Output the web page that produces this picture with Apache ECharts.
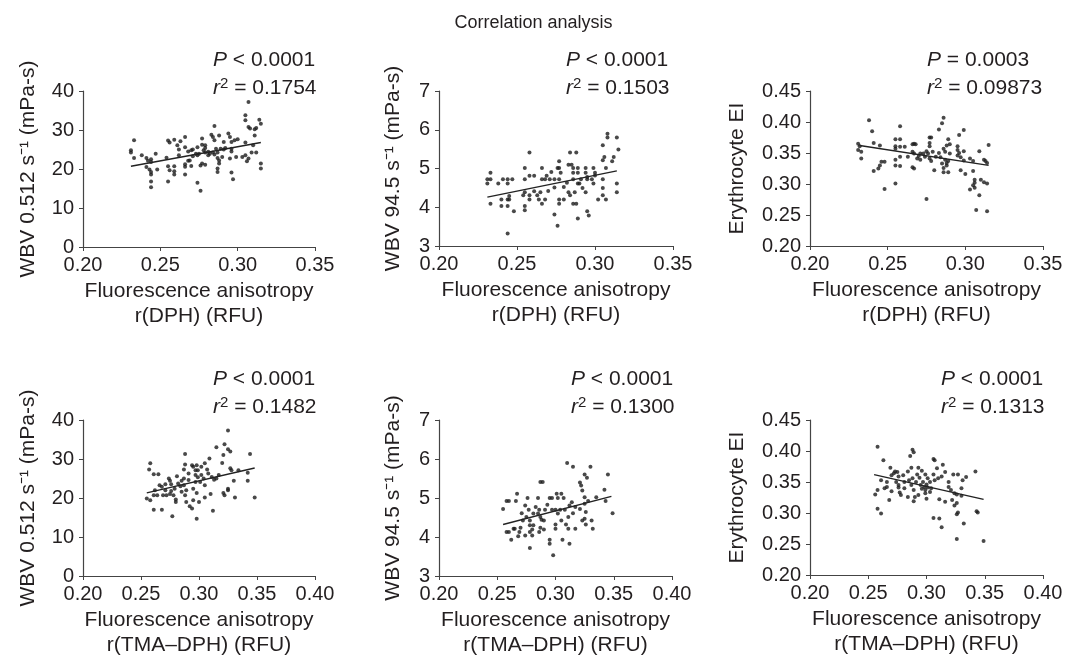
<!DOCTYPE html>
<html>
<head>
<meta charset="utf-8">
<script src="https://cdn.jsdelivr.net/npm/echarts@6/dist/echarts.min.js"></script>
<style>
  html, body { margin: 0; padding: 0; background: #fff; }
  #chart { width: 1067px; height: 661px; }
</style>
</head>
<body>
<div id="chart"></div>
<script>
const dphWbvLow = [[0.233,27.4],[0.231,24.8],[0.231,24.2],[0.233,22.8],[0.238,23.5],[0.241,22.8],[0.242,22.1],[0.244,22.5],[0.244,21.8],[0.247,23.9],[0.241,20.5],[0.243,19.9],[0.244,19.2],[0.244,18.6],[0.248,19.9],[0.244,16.8],[0.244,15.3],[0.254,22.9],[0.255,27.3],[0.256,26.8],[0.259,27.5],[0.261,26.1],[0.262,25.0],[0.263,27.1],[0.266,28.2],[0.266,25.6],[0.255,20.7],[0.256,19.7],[0.259,20.7],[0.259,19.4],[0.255,16.8],[0.259,18.6],[0.266,21.2],[0.266,20.6],[0.266,18.6],[0.268,22.1],[0.269,22.2],[0.270,24.8],[0.271,25.0],[0.273,23.9],[0.274,25.6],[0.275,23.9],[0.276,20.9],[0.277,27.8],[0.277,26.2],[0.279,26.1],[0.279,25.4],[0.278,24.8],[0.279,24.2],[0.277,21.4],[0.279,21.1],[0.274,16.5],[0.276,14.4],[0.281,24.4],[0.283,28.8],[0.284,28.2],[0.285,31.0],[0.285,27.4],[0.284,24.2],[0.285,23.7],[0.287,22.8],[0.287,24.2],[0.288,28.6],[0.289,25.2],[0.288,22.2],[0.288,21.4],[0.287,20.1],[0.287,19.2],[0.290,23.1],[0.291,25.0],[0.292,25.4],[0.294,29.1],[0.295,28.2],[0.296,26.9],[0.296,25.2],[0.296,24.5],[0.295,22.7],[0.296,19.1],[0.297,17.4],[0.298,27.4],[0.300,27.6],[0.299,23.1],[0.303,23.1],[0.305,33.8],[0.305,32.5],[0.307,30.8],[0.308,30.4],[0.307,37.2],[0.311,30.2],[0.312,30.5],[0.314,32.6],[0.315,31.6],[0.305,26.8],[0.305,23.5],[0.307,22.7],[0.306,22.0],[0.309,24.2],[0.311,28.6],[0.310,26.1],[0.312,24.2],[0.315,21.4],[0.315,20.1],[0.271,23.3],[0.274,23.5],[0.281,23.5],[0.282,23.9],[0.291,26.9],[0.286,25.2],[0.268,24.5],[0.262,23.5],[0.270,20.8]];
const dphWbvHigh = [[0.231,4.72],[0.231,4.61],[0.233,4.89],[0.233,4.72],[0.233,4.09],[0.238,4.61],[0.241,4.72],[0.240,4.20],[0.240,4.03],[0.244,4.72],[0.244,4.61],[0.244,4.20],[0.245,4.29],[0.245,4.20],[0.244,4.03],[0.247,4.72],[0.248,3.90],[0.244,3.32],[0.255,5.01],[0.255,4.72],[0.255,4.39],[0.254,4.31],[0.255,4.03],[0.255,3.92],[0.258,5.41],[0.258,4.81],[0.261,4.81],[0.258,4.31],[0.258,4.20],[0.261,4.41],[0.263,4.31],[0.264,4.20],[0.265,4.39],[0.266,5.01],[0.266,4.72],[0.266,4.09],[0.268,4.20],[0.268,4.72],[0.269,4.81],[0.270,4.42],[0.271,4.72],[0.274,4.72],[0.274,4.51],[0.274,3.81],[0.276,3.52],[0.276,5.01],[0.277,5.01],[0.277,5.19],[0.278,4.89],[0.277,4.72],[0.277,4.20],[0.277,4.09],[0.280,4.20],[0.283,4.39],[0.284,4.31],[0.283,5.10],[0.285,5.10],[0.284,5.41],[0.288,5.41],[0.286,5.01],[0.286,4.89],[0.286,4.72],[0.286,4.09],[0.288,4.09],[0.287,4.39],[0.289,5.01],[0.289,4.89],[0.289,4.61],[0.290,4.61],[0.289,3.71],[0.291,4.72],[0.294,5.01],[0.294,4.89],[0.295,4.78],[0.295,4.72],[0.294,4.39],[0.295,3.90],[0.296,3.79],[0.299,5.01],[0.300,4.89],[0.300,4.82],[0.299,4.61],[0.302,4.20],[0.305,5.60],[0.305,5.21],[0.306,5.30],[0.305,4.72],[0.305,4.50],[0.305,4.31],[0.307,4.20],[0.307,5.01],[0.308,5.90],[0.308,5.80],[0.311,5.19],[0.312,5.30],[0.314,5.80],[0.315,5.49],[0.314,4.61],[0.314,4.39],[0.298,4.72],[0.282,4.63],[0.272,4.91],[0.280,4.52],[0.292,4.50]];
const dphEi = [[0.231,0.365],[0.232,0.361],[0.231,0.355],[0.233,0.352],[0.233,0.341],[0.238,0.403],[0.240,0.385],[0.241,0.366],[0.245,0.362],[0.241,0.321],[0.244,0.325],[0.245,0.330],[0.246,0.336],[0.248,0.336],[0.248,0.292],[0.255,0.372],[0.255,0.361],[0.255,0.357],[0.258,0.393],[0.258,0.372],[0.258,0.360],[0.261,0.360],[0.255,0.339],[0.255,0.330],[0.258,0.329],[0.255,0.301],[0.263,0.344],[0.266,0.364],[0.267,0.365],[0.268,0.364],[0.266,0.352],[0.267,0.349],[0.266,0.327],[0.267,0.325],[0.269,0.341],[0.271,0.349],[0.271,0.339],[0.273,0.349],[0.275,0.353],[0.274,0.344],[0.277,0.375],[0.278,0.375],[0.277,0.366],[0.277,0.361],[0.276,0.349],[0.277,0.341],[0.278,0.337],[0.279,0.352],[0.280,0.322],[0.275,0.276],[0.283,0.388],[0.285,0.398],[0.286,0.407],[0.283,0.350],[0.284,0.343],[0.285,0.333],[0.286,0.357],[0.287,0.352],[0.288,0.362],[0.290,0.364],[0.289,0.372],[0.287,0.339],[0.288,0.334],[0.289,0.337],[0.286,0.326],[0.286,0.319],[0.289,0.319],[0.288,0.330],[0.290,0.349],[0.295,0.361],[0.295,0.355],[0.296,0.350],[0.296,0.379],[0.299,0.387],[0.297,0.343],[0.299,0.353],[0.299,0.338],[0.297,0.322],[0.300,0.316],[0.303,0.291],[0.305,0.337],[0.305,0.321],[0.306,0.307],[0.306,0.302],[0.305,0.298],[0.306,0.294],[0.309,0.353],[0.309,0.282],[0.307,0.258],[0.310,0.307],[0.312,0.339],[0.313,0.337],[0.312,0.303],[0.314,0.301],[0.314,0.256],[0.315,0.363],[0.314,0.334],[0.258,0.344],[0.281,0.344],[0.270,0.345],[0.295,0.346],[0.303,0.341]];
const tmaWbvLow = [[0.258,28.9],[0.257,27.3],[0.261,26.1],[0.265,26.1],[0.255,19.9],[0.258,19.4],[0.261,20.7],[0.264,20.7],[0.261,17.0],[0.268,17.0],[0.266,23.3],[0.268,22.9],[0.271,23.5],[0.271,22.0],[0.269,20.7],[0.272,20.7],[0.274,25.0],[0.275,24.4],[0.276,23.5],[0.276,21.8],[0.275,21.0],[0.279,22.4],[0.280,19.6],[0.280,19.0],[0.277,15.3],[0.285,24.4],[0.287,25.0],[0.287,23.3],[0.288,31.3],[0.287,27.3],[0.285,21.6],[0.288,20.7],[0.289,22.0],[0.291,26.3],[0.289,19.0],[0.294,28.4],[0.295,28.0],[0.297,27.1],[0.298,28.4],[0.299,27.1],[0.297,25.9],[0.297,24.1],[0.298,21.3],[0.295,19.4],[0.292,17.9],[0.294,17.3],[0.298,14.7],[0.300,19.0],[0.302,25.9],[0.304,25.0],[0.305,28.9],[0.307,27.3],[0.308,26.3],[0.309,30.1],[0.305,23.3],[0.305,20.1],[0.310,21.0],[0.312,16.7],[0.313,24.7],[0.315,33.0],[0.315,25.0],[0.320,29.0],[0.321,31.0],[0.322,33.8],[0.325,32.5],[0.327,31.9],[0.325,37.3],[0.321,21.3],[0.322,20.7],[0.325,22.4],[0.325,22.0],[0.327,27.6],[0.328,27.1],[0.330,24.4],[0.331,20.1],[0.334,27.1],[0.342,26.5],[0.342,24.4],[0.344,31.3],[0.348,20.1],[0.282,23.7],[0.284,23.0],[0.291,24.6],[0.301,24.1],[0.311,25.4],[0.317,25.9],[0.262,22.0],[0.278,20.7],[0.295,22.4],[0.299,25.3],[0.281,25.6],[0.302,28.0],[0.288,28.6]];
const tmaWbvHigh = [[0.255,4.72],[0.258,4.92],[0.260,4.92],[0.258,4.13],[0.260,4.13],[0.262,3.93],[0.264,4.21],[0.265,4.21],[0.266,4.92],[0.267,5.11],[0.269,4.13],[0.270,4.24],[0.271,4.61],[0.268,4.02],[0.274,4.04],[0.274,4.81],[0.276,5.00],[0.277,4.70],[0.278,4.42],[0.278,4.30],[0.278,4.13],[0.280,4.04],[0.280,4.19],[0.278,3.72],[0.285,5.00],[0.286,4.70],[0.287,5.41],[0.289,5.41],[0.285,4.60],[0.287,4.51],[0.288,4.44],[0.287,4.24],[0.290,4.19],[0.286,4.13],[0.293,4.83],[0.295,5.00],[0.297,5.00],[0.295,3.93],[0.295,3.83],[0.298,3.53],[0.297,4.70],[0.300,4.70],[0.301,5.11],[0.302,5.00],[0.300,4.32],[0.300,4.21],[0.304,4.70],[0.305,5.11],[0.307,5.00],[0.305,4.42],[0.306,3.93],[0.310,5.90],[0.308,4.70],[0.309,4.32],[0.311,4.21],[0.312,3.83],[0.315,5.80],[0.312,4.81],[0.314,4.89],[0.317,4.21],[0.315,4.61],[0.321,5.40],[0.322,5.32],[0.323,5.19],[0.321,4.72],[0.323,4.42],[0.325,5.60],[0.327,5.52],[0.330,5.80],[0.325,5.02],[0.325,4.85],[0.326,4.64],[0.325,4.47],[0.326,4.32],[0.328,4.92],[0.331,4.42],[0.332,4.21],[0.335,5.02],[0.342,5.21],[0.343,4.92],[0.345,5.60],[0.349,4.61],[0.272,4.42],[0.281,4.60],[0.283,4.77],[0.291,4.70],[0.302,4.60],[0.290,4.42],[0.311,4.51],[0.317,4.77],[0.281,4.30],[0.275,4.51]];
const tmaEi = [[0.258,0.407],[0.256,0.330],[0.258,0.337],[0.258,0.307],[0.261,0.299],[0.261,0.353],[0.263,0.385],[0.266,0.350],[0.266,0.342],[0.268,0.321],[0.269,0.373],[0.270,0.361],[0.270,0.335],[0.272,0.364],[0.273,0.367],[0.275,0.366],[0.276,0.359],[0.274,0.350],[0.276,0.345],[0.277,0.333],[0.278,0.329],[0.276,0.341],[0.280,0.361],[0.281,0.350],[0.284,0.326],[0.285,0.353],[0.286,0.392],[0.288,0.402],[0.289,0.398],[0.287,0.373],[0.288,0.356],[0.287,0.345],[0.289,0.337],[0.290,0.326],[0.289,0.319],[0.291,0.350],[0.292,0.362],[0.293,0.373],[0.294,0.357],[0.295,0.345],[0.296,0.339],[0.296,0.368],[0.297,0.350],[0.298,0.342],[0.299,0.337],[0.299,0.332],[0.300,0.346],[0.300,0.323],[0.301,0.356],[0.301,0.341],[0.303,0.350],[0.304,0.340],[0.306,0.387],[0.307,0.385],[0.306,0.362],[0.307,0.353],[0.309,0.372],[0.310,0.356],[0.311,0.322],[0.306,0.292],[0.311,0.291],[0.313,0.277],[0.314,0.378],[0.316,0.366],[0.313,0.359],[0.319,0.342],[0.321,0.337],[0.323,0.362],[0.327,0.362],[0.322,0.321],[0.324,0.332],[0.326,0.330],[0.324,0.312],[0.326,0.316],[0.327,0.301],[0.326,0.298],[0.326,0.258],[0.331,0.353],[0.332,0.283],[0.334,0.358],[0.330,0.340],[0.342,0.367],[0.343,0.303],[0.344,0.301],[0.349,0.255],[0.316,0.318],[0.281,0.340],[0.293,0.329],[0.284,0.367],[0.299,0.362],[0.319,0.350],[0.330,0.328],[0.264,0.340],[0.303,0.334]];

// regression line ends, [x, y] at each end
const fitDphWbvLow = [[0.231, 20.7], [0.315, 26.8]];
const fitDphWbvHigh = [[0.231, 4.26], [0.314, 4.94]];
const fitDphEi = [[0.232, 0.362], [0.315, 0.330]];
const fitTmaWbvLow = [[0.255, 21.3], [0.348, 27.7]];
const fitTmaWbvHigh = [[0.255, 4.32], [0.348, 5.04]];
const fitTmaEi = [[0.255, 0.362], [0.349, 0.322]];

const pLabels = ['< 0.0001', '< 0.0001', '= 0.0003', '< 0.0001', '< 0.0001', '< 0.0001'];
const r2Labels = ['0.1754', '0.1503', '0.09873', '0.1482', '0.1300', '0.1313'];
const yNames = ['WBV 0.512 s\u207B\u00B9 (mPa-s)', 'WBV 94.5 s\u207B\u00B9 (mPa-s)', 'Erythrocyte EI'];
const xNames = ['Fluorescence anisotropy\nr(DPH) (RFU)', 'Fluorescence anisotropy\nr(TMA\u2013DPH) (RFU)'];
const yRanges = [[0, 40, 10], [3, 7, 1], [0.2, 0.45, 0.05]];
const xRanges = [[0.2, 0.35, 0.05], [0.2, 0.4, 0.05]];

const FONT = '"Liberation Sans", Arial, sans-serif';
const INK = '#231f20';

const panels = [
  { pts: dphWbvLow, fit: fitDphWbvLow, row: 0, col: 0 },
  { pts: dphWbvHigh, fit: fitDphWbvHigh, row: 0, col: 1 },
  { pts: dphEi, fit: fitDphEi, row: 0, col: 2 },
  { pts: tmaWbvLow, fit: fitTmaWbvLow, row: 1, col: 0 },
  { pts: tmaWbvHigh, fit: fitTmaWbvHigh, row: 1, col: 1 },
  { pts: tmaEi, fit: fitTmaEi, row: 1, col: 2 },
];

// pixel layout of each plot box
const gridBox = [
  { left: 83, right: 752, top: 91, bottom: 414 },
  { left: 439, right: 394, top: 91, bottom: 415 },
  { left: 810, right: 24, top: 91, bottom: 415 },
  { left: 83, right: 752, top: 420, bottom: 85 },
  { left: 439, right: 395, top: 420, bottom: 85 },
  { left: 810, right: 24, top: 420, bottom: 86 },
];
const yNameGap = [44, 35, 62];
const notePos = [
  { x: 213, p: 60, r: 88 }, { x: 566, p: 60, r: 88 }, { x: 927, p: 60, r: 88 },
  { x: 213, p: 379, r: 407 }, { x: 571, p: 379, r: 407 }, { x: 941, p: 379, r: 407 },
];

const chart = echarts.init(document.getElementById('chart'));

const rich = {
  i: { fontStyle: 'italic', fontSize: 21, fontFamily: FONT, fill: INK, lineHeight: 24 },
  t: { fontSize: 21, fontFamily: FONT, fill: INK, lineHeight: 24 },
  s: { fontSize: 15, fontFamily: FONT, fill: INK, verticalAlign: 'top', lineHeight: 15 },
};

const grid = [], xAxis = [], yAxis = [], series = [], graphic = [];
panels.forEach((p, i) => {
  const yr = yRanges[p.col];
  const xr = xRanges[p.row];
  grid.push(gridBox[i]);
  xAxis.push({
    type: 'value', gridIndex: i, min: xr[0], max: xr[1], interval: xr[2],
    name: xNames[p.row], nameLocation: 'middle', nameGap: 32,
    nameTextStyle: { fontFamily: FONT, fontSize: 21, color: INK, lineHeight: 25 },
    axisLine: { lineStyle: { color: '#444', width: 1.2 } },
    axisTick: { show: true, length: 4, lineStyle: { color: '#444' } },
    axisLabel: { fontFamily: FONT, fontSize: 20, color: INK, margin: 8,
      formatter: (v) => v.toFixed(2) },
    splitLine: { show: false },
  });
  yAxis.push({
    type: 'value', gridIndex: i, min: yr[0], max: yr[1], interval: yr[2],
    name: yNames[p.col], nameLocation: 'middle', nameGap: yNameGap[p.col],
    nameTextStyle: { fontFamily: FONT, fontSize: 21, color: INK },
    axisLine: { show: true, lineStyle: { color: '#444', width: 1.2 } },
    axisTick: { show: true, length: 4, lineStyle: { color: '#444' } },
    axisLabel: { fontFamily: FONT, fontSize: 20, color: INK, margin: 9,
      formatter: (v) => (p.col === 2 ? v.toFixed(2) : String(Math.round(v))) },
    splitLine: { show: false },
  });
  series.push({
    type: 'scatter', xAxisIndex: i, yAxisIndex: i, data: p.pts,
    symbolSize: 4, itemStyle: { color: '#1c1c1c' }, silent: true,
  });
  series.push({
    type: 'line', xAxisIndex: i, yAxisIndex: i, data: p.fit,
    symbol: 'none', lineStyle: { color: '#222', width: 1.4 }, silent: true,
  });
  const n = notePos[i];
  graphic.push({
    type: 'text', x: n.x, y: n.p,
    style: {
      text: '{i|P}{t| ' + pLabels[i] + '}', verticalAlign: 'middle', fill: INK,
      font: '21px ' + FONT, rich,
    },
  });
  graphic.push({
    type: 'text', x: n.x, y: n.r,
    style: {
      text: '{i|r}{s|2}{t| = ' + r2Labels[i] + '}', verticalAlign: 'middle', fill: INK,
      font: '21px ' + FONT, rich,
    },
  });
});

chart.setOption({
  animation: false,
  backgroundColor: '#fff',
  title: {
    text: 'Correlation analysis', left: 'center', top: 9,
    textStyle: { fontFamily: FONT, fontSize: 18, fontWeight: 'normal', color: INK },
  },
  grid, xAxis, yAxis, series, graphic,
});
</script>
</body>
</html>
